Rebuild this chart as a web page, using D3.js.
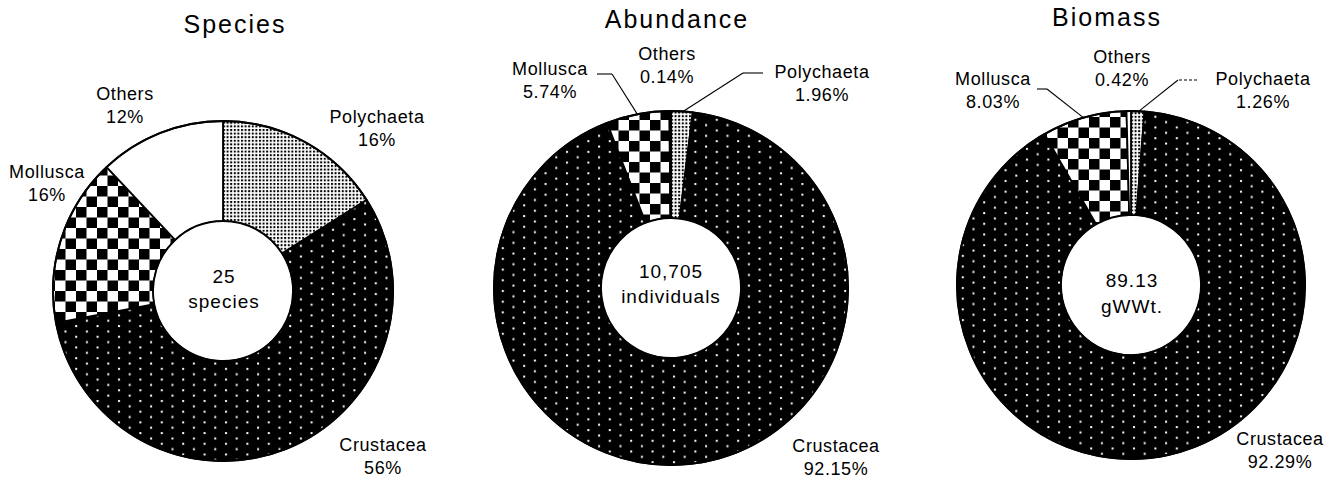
<!DOCTYPE html>
<html>
<head>
<meta charset="utf-8">
<script src="https://cdn.jsdelivr.net/npm/d3@7"></script>
<style>
  body { margin: 0; background: #fff; }
  svg { display: block; font-family: "Liberation Sans", Arial, sans-serif; }
</style>
</head>
<body>
<svg id="chart" width="1339" height="478"></svg>
<script>
// data
const categories = ["Polychaeta", "Crustacea", "Mollusca", "Others"];
const speciesPct = [16, 56, 16, 12];
const abundancePct = [1.96, 92.15, 5.74, 0.14];
const biomassPct = [1.26, 92.29, 8.03, 0.42];
const titles = ["Species", "Abundance", "Biomass"];
const totalsTop = ["25", "10,705", "89.13"];
const totalsBottom = ["species", "individuals", "gWWt."];

const series = [speciesPct, abundancePct, biomassPct];
const decimals = [0, 2, 2];

// layout (positions relative to each donut centre)
const layout = [
  { cx: 223, cy: 291, R: 170, r: 70, title: [235, 33], center: [1, -8, 17],
    labels: { Polychaeta: [154, -168], Crustacea: [160, 160], Mollusca: [-176, -113], Others: [-98, -191] },
    leaders: {} },
  { cx: 671, cy: 288, R: 177, r: 70, title: [677, 28], center: [0, -10, 15],
    labels: { Polychaeta: [151, -210], Crustacea: [165, 164], Mollusca: [-121, -213], Others: [-4, -228] },
    leaders: { Mollusca: [[-74, -214], [-59, -214]], Polychaeta: [[92, -215], [72, -215]] } },
  { cx: 1131, cy: 285, R: 174, r: 70, title: [1107, 26], center: [1, 2, 28],
    labels: { Polychaeta: [132, -200], Crustacea: [149, 160], Mollusca: [-138, -200], Others: [-9, -222] },
    leaders: { Mollusca: [[-94, -196], [-84, -196]], Polychaeta: [[66, -205], [47, -205], true] } }
];

const svg = d3.select("#chart");
const defs = svg.append("defs");

// Crustacea: black with sparse white dots
const pCru = defs.append("pattern").attr("id", "pat-Crustacea")
  .attr("patternUnits", "userSpaceOnUse").attr("width", 21.4).attr("height", 10.7);
pCru.append("rect").attr("width", 21.4).attr("height", 10.7).attr("fill", "#000");
pCru.append("rect").attr("x", 2).attr("y", 2).attr("width", 2).attr("height", 2).attr("fill", "#fff");
pCru.append("rect").attr("x", 12.7).attr("y", 7.35).attr("width", 2).attr("height", 2).attr("fill", "#fff");

// Mollusca: checkerboard
const pMol = defs.append("pattern").attr("id", "pat-Mollusca")
  .attr("patternUnits", "userSpaceOnUse").attr("width", 21).attr("height", 21);
pMol.append("rect").attr("width", 21).attr("height", 21).attr("fill", "#fff");
pMol.append("rect").attr("width", 10.5).attr("height", 10.5).attr("fill", "#000");
pMol.append("rect").attr("x", 10.5).attr("y", 10.5).attr("width", 10.5).attr("height", 10.5).attr("fill", "#000");

// Polychaeta: fine black stipple
const pPol = defs.append("pattern").attr("id", "pat-Polychaeta")
  .attr("patternUnits", "userSpaceOnUse").attr("width", 3.6).attr("height", 3.6);
pPol.append("rect").attr("width", 3.6).attr("height", 3.6).attr("fill", "#fff");
pPol.append("rect").attr("width", 2).attr("height", 2).attr("fill", "#000");

const fillFor = c => c === "Others" ? "#fff" : `url(#pat-${c})`;

const pie = d3.pie().sort(null).value(d => d.value);

series.forEach((vals, i) => {
  const L = layout[i];
  const data = categories.map((c, j) => ({ cat: c, value: vals[j] }));
  const arcs = pie(data);
  const arc = d3.arc().innerRadius(L.r).outerRadius(L.R);

  const g = svg.append("g").attr("transform", `translate(${L.cx},${L.cy})`);

  g.selectAll("path.slice")
    .data(arcs)
    .join("path")
    .attr("class", "slice")
    .attr("d", arc)
    .attr("fill", d => fillFor(d.data.cat))
    .attr("stroke", "#000")
    .attr("stroke-width", 1.8)
    .attr("stroke-linejoin", "round");

  // outer border
  g.append("circle").attr("r", L.R).attr("fill", "none").attr("stroke", "#000").attr("stroke-width", 2);
  g.append("circle").attr("r", L.r).attr("fill", "none").attr("stroke", "#000").attr("stroke-width", 1.2);

  // title
  svg.append("text")
    .attr("x", L.title[0]).attr("y", L.title[1])
    .attr("text-anchor", "middle")
    .style("font-size", "25px").style("letter-spacing", "2px")
    .text(titles[i]);

  // centre text
  const ct = g.append("text").attr("text-anchor", "middle")
    .style("font-size", "19px").style("letter-spacing", "1px");
  ct.append("tspan").attr("x", L.center[0]).attr("y", L.center[1]).text(totalsTop[i]);
  ct.append("tspan").attr("x", L.center[0]).attr("y", L.center[2]).text(totalsBottom[i]);

  // labels
  arcs.forEach(a => {
    const pos = L.labels[a.data.cat];
    const t = g.append("text").attr("text-anchor", "middle")
      .style("font-size", "18px").style("letter-spacing", "0.6px");
    t.append("tspan").attr("x", pos[0]).attr("y", pos[1]).text(a.data.cat);
    t.append("tspan").attr("x", pos[0]).attr("y", pos[1] + 23)
      .text(a.data.value.toFixed(decimals[i]) + "%");

    const ld = L.leaders[a.data.cat];
    if (ld) {
      const mid = (a.startAngle + a.endAngle) / 2;
      const end = [Math.sin(mid) * (L.R - 1), -Math.cos(mid) * (L.R - 1)];
      g.append("line")
        .attr("x1", ld[0][0]).attr("y1", ld[0][1]).attr("x2", ld[1][0]).attr("y2", ld[1][1])
        .attr("stroke", "#000").attr("stroke-width", 1.1)
        .attr("stroke-dasharray", ld[2] ? "3,2" : null);
      g.append("line")
        .attr("x1", ld[1][0]).attr("y1", ld[1][1]).attr("x2", end[0]).attr("y2", end[1])
        .attr("stroke", "#000").attr("stroke-width", 1.1);
    }
  });
});
</script>
</body>
</html>
